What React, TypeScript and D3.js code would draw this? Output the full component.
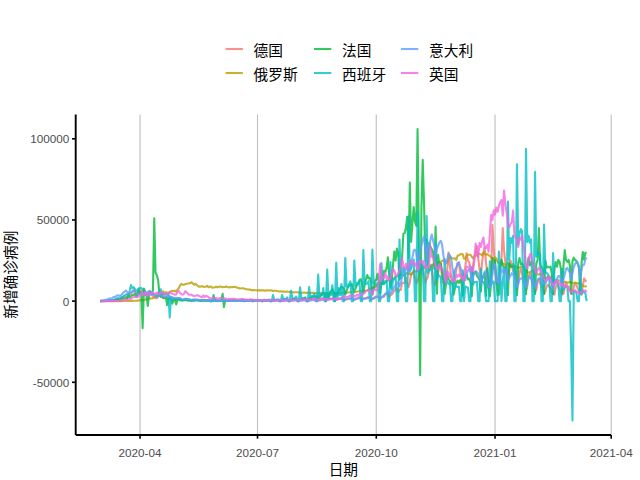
import React from 'react';
import * as d3 from 'd3';

// 数据：2020-03-01 起的每日新增确诊（千例），每行一周（周日到周六）
const startDate = '2020-03-01';
const countries = ['德国', '俄罗斯', '法国', '西班牙', '意大利', '英国'];
const colors = ['#F8766D', '#B79F00', '#00BA38', '#00BFC4', '#619CFF', '#F564E3'];
const xTickDates = ['2020-04-01', '2020-07-01', '2020-10-01', '2021-01-01', '2021-04-01'];
const xTickLabels = ['2020-04', '2020-07', '2020-10', '2021-01', '2021-04'];
const yTicks = [-50000, 0, 50000, 100000];

const de = [
  0,0.1,0.1,0.1,0.2,0.3,0.2,
  0.3,0.2,0.4,0.3,0.8,0.7,0.9,
  1.2,1.0,1.5,2.0,2.8,3.1,2.7,
  1.9,4.2,3.9,4.9,5.6,6.9,6.3,
  4.7,4.0,4.9,5.5,6.2,6.2,5.9,
  3.7,3.8,4.0,4.8,5.2,4.1,2.9,
  2.5,2.1,1.8,2.9,3.3,3.4,3.0,
  1.8,1.8,1.8,2.2,2.4,2.0,1.5,
  1.0,1.0,1.0,1.3,1.5,1.4,0.9,
  0.7,0.7,0.6,1.0,1.3,1.2,0.9,
  0.7,0.4,0.8,0.8,0.9,0.6,0.6,
  0.5,0.3,0.5,0.8,0.6,0.5,0.6,
  0.4,0.3,0.4,0.4,0.7,0.3,0.2,
  0.3,0.2,0.3,0.3,0.4,0.3,0.4,
  0.3,0.2,0.3,0.6,0.3,0.4,0.3,
  0.2,0.2,0.4,0.3,0.8,0.8,0.6,
  0.7,0.5,0.6,0.6,0.6,0.5,0.7,
  0.3,0.3,0.4,0.5,0.3,0.4,0.4,
  0.2,0.2,0.4,0.4,0.4,0.4,0.3,
  0.2,0.2,0.5,0.6,0.6,0.5,0.5,
  0.3,0.4,0.6,0.5,0.6,0.8,0.6,
  0.3,0.6,0.6,0.7,0.9,0.9,1.0,
  0.4,0.5,0.9,0.7,1.0,1.1,1.1,
  0.6,0.4,1.2,1.2,1.4,1.5,1.4,
  0.6,0.6,1.4,1.5,1.7,2.0,1.3,
  0.7,0.7,1.3,1.6,1.5,1.6,1.4,
  0.6,0.9,1.2,1.3,1.3,1.5,1.4,
  0.8,0.8,1.0,1.2,1.5,1.6,1.6,
  0.9,0.8,1.4,1.8,2.2,2.3,1.9,
  1.1,1.3,1.8,1.8,2.2,2.5,2.1,
  1.4,1.2,1.9,2.5,2.7,2.7,2.5,
  1.4,2.0,2.8,2.8,4.1,4.5,4.3,
  2.5,3.5,4.1,5.1,6.6,7.3,7.8,
  5.6,6.9,6.9,11.4,11.2,11.2,14.7,
  10.7,8.7,11.4,16.8,16.8,19.0,14.2,
  11.1,12.1,15.3,18.0,21.5,22.0,16.0,
  11.4,13.4,15.3,19.0,22.0,22.5,14.0,
  9.8,11.0,15.0,17.5,22.0,23.5,14.0,
  11.0,10.2,15.0,19.0,30.0,22.5,14.5,
  12.0,11.0,14.5,19.5,23.5,23.5,17.5,
  12.0,12.0,16.5,21.0,29.5,25.0,24.0,
  20.5,14.5,22.0,28.0,29.5,34.0,26.5,
  19.5,15.5,24.0,30.0,33.0,24.0,17.0,
  12.0,10.0,17.0,47.0,32.0,22.0,11.0,
  10.0,12.0,21.0,25.0,45.0,31.0,24.0,
  16.0,12.5,19.0,25.0,22.0,18.5,18.0,
  14.0,7.0,11.5,17.5,20.0,17.0,12.5,
  11.0,6.5,9.0,15.5,17.0,14.0,11.0,
  9.5,5.5,7.0,12.0,14.0,11.0,9.0,
  8.0,4.5,6.0,9.0,10.0,9.0,7.5,
  6.0,4.5,4.0,8.5,10.5,9.0,7.5,
  6.0,4.0,4.5,8.5,11.5,9.5,9.0,
  7.0,5.0,4.5,9.0,11.0,10.0,8.0,
  6.5,5.0,4.0,9.5,14.0,12.5,12.5,
];

const ru = [
  0,0,0,0,0,0,0,
  0,0,0,0,0,0,0.01,
  0.02,0.03,0.02,0.03,0.05,0.06,0.05,
  0.07,0.06,0.07,0.16,0.18,0.2,0.23,
  0.27,0.3,0.5,0.44,0.77,0.6,0.6,
  0.95,1.15,1.15,1.46,1.8,1.67,1.79,
  2.19,2.56,2.77,3.39,3.45,4.07,4.79,
  6.06,4.27,5.64,5.24,4.77,5.85,5.97,
  6.36,6.2,6.41,5.84,7.1,7.93,9.62,
  10.6,10.1,10.1,10.5,10.7,10.8,11.0,
  11.0,11.7,10.9,10.0,10.6,9.97,9.2,
  8.93,8.93,9.26,8.76,8.85,8.89,9.43,
  8.6,8.95,8.92,8.34,8.37,8.57,8.95,
  8.48,8.86,9.03,8.83,8.54,8.72,8.78,
  8.98,8.6,8.4,8.78,8.5,8.7,8.7,
  8.84,8.25,8.25,7.84,7.79,7.97,7.89,
  7.6,7.42,7.18,7.18,7.11,6.8,6.85,
  6.79,6.69,6.69,6.56,6.76,6.63,6.61,
  6.74,6.61,6.37,6.63,6.51,6.61,6.54,
  6.61,6.25,6.42,6.42,6.2,6.1,5.94,
  6.14,5.84,5.84,5.86,5.81,5.87,5.76,
  5.64,5.63,5.4,5.4,5.48,5.43,5.46,
  5.39,5.16,5.2,5.2,5.24,5.21,5.1,
  5.19,5.12,4.95,5.1,5.06,5.06,4.92,
  4.87,4.84,4.75,4.79,4.87,4.85,4.92,
  4.85,4.68,4.7,4.68,4.71,4.83,4.98,
  4.98,4.73,4.73,4.95,4.99,5.11,5.21,
  5.2,5.1,5.2,5.36,5.45,5.51,5.67,
  5.6,5.5,5.67,5.9,5.9,6.07,6.07,
  6.2,6.2,6.4,6.4,6.6,7.2,7.5,
  7.86,8.1,8.1,8.48,9.4,9.4,10.5,
  10.9,10.9,11.6,11.1,11.5,12.1,12.8,
  13.6,13.9,13.9,13.8,14.2,15.1,15.2,
  15.7,15.9,16.3,16.2,15.7,15.9,17.0,
  17.3,16.5,17.2,16.2,17.7,18.2,18.1,
  18.6,18.4,19.8,19.8,19.4,20.5,20.4,
  21.8,21.8,20.9,19.9,21.6,21.6,22.7,
  22.6,22.8,22.4,23.6,23.6,24.3,24.8,
  25.0,24.6,24.3,23.7,25.3,27.5,26.7,
  26.3,26.3,26.4,25.3,28.1,28.2,28.8,
  29.0,28.8,26.1,26.2,27.9,28.6,28.6,
  28.6,27.3,26.4,27.0,27.9,28.2,29.0,
  29.0,28.9,28.0,29.9,29.3,28.6,29.0,
  28.3,27.8,27.0,26.5,26.0,27.0,26.3,
  24.2,23.3,23.5,24.2,23.1,22.9,22.1,
  22.9,23.0,22.4,21.6,22.2,22.8,21.8,
  21.1,21.0,20.6,20.6,21.4,21.2,20.9,
  19.5,19.2,17.6,17.7,17.8,18.2,19.0,
  17.7,17.0,16.6,16.6,16.3,16.7,16.6,
  15.4,14.5,14.1,14.4,15.0,15.3,14.4,
  13.4,12.9,12.7,13.0,13.4,12.8,12.7,
  12.4,11.5,11.7,11.9,11.7,11.4,11.5,
  11.9,11.6,11.0,11.0,11.5,11.2,11.1,
  10.6,10.9,9.8,9.5,9.2,9.0,9.4,
];

const fr = [
  0,0.05,0.1,0.05,0.1,0.2,0.3,
  0.2,0.3,0.4,0.5,0.6,0.8,0.9,
  0.9,1.2,1.1,1.4,1.8,1.6,1.8,
  1.6,3.8,2.4,2.9,3.9,3.8,4.6,
  2.6,4.4,7.6,4.9,5.2,-16.7,7.8,
  5.0,3.6,-3.0,4.5,6.0,4.8,6.5,
  51.0,17.5,16.0,13.0,4.5,2.6,3.3,
  2.0,2.1,2.7,-2.5,2.0,1.6,1.5,
  -1.5,0.5,1.1,-2.0,1.0,0.8,0.6,
  0.4,0.6,0.6,0.7,0.6,0.3,0.2,
  0.3,0.1,0.5,0.2,0.6,0.7,0.4,
  0.3,0.1,0.3,0.4,0.3,0.3,0.2,
  0.3,0.1,0.2,0.3,3.7,0.2,0.3,
  0.3,0.1,0.2,0.8,4.5,-3.7,0.5,
  0.3,0.2,0.3,0.5,0.4,0.5,0.5,
  0.4,0.2,0.4,0.5,0.4,0.5,0.4,
  0.0,0.3,0.4,0.5,0.4,0.7,0.0,
  0.3,0.2,0.4,0.5,0.6,0.5,0.0,
  0.0,0.5,0.6,0.7,0.6,0.6,0.0,
  0.0,0.5,0.5,0.7,0.8,0.8,0.0,
  0.0,0.6,0.9,1.0,1.1,1.1,0.0,
  0.0,0.7,1.1,1.4,1.3,1.3,0.0,
  0.0,0.9,1.0,1.7,1.6,2.3,0.0,
  0.0,2.0,1.5,2.5,2.7,2.8,3.3,
  0.0,3.1,2.2,3.7,4.8,4.6,4.6,
  0.0,4.9,1.9,5.4,6.1,7.4,5.5,
  0.0,4.9,4.0,7.0,7.2,8.9,8.6,
  7.1,4.2,6.5,8.5,9.8,9.8,10.6,
  7.2,6.2,7.9,9.8,10.6,13.2,13.5,
  10.5,5.3,10.0,13.1,16.1,14.0,14.4,
  11.1,4.1,8.1,12.8,13.0,16.9,12.5,
  5.0,11.0,10.5,18.7,18.1,20.3,27.0,
  16.1,8.5,12.9,22.6,30.6,25.0,32.4,
  29.8,13.2,20.5,26.7,41.6,42.0,45.4,
  52.0,26.8,73.0,36.4,47.6,58.0,49.0,
  46.3,106.0,36.3,-45.7,58.0,87.0,60.5,
  25.0,38.0,22.8,35.9,33.2,32.1,30.0,
  20.0,46.0,4.5,28.4,21.2,22.9,17.9,
  13.1,4.5,10.4,16.3,13.5,12.5,11.2,
  10.0,4.0,8.1,11.2,12.7,11.2,12.9,
  11.0,3.4,13.7,14.6,16.3,13.4,13.9,
  11.5,3.1,17.6,17.0,18.3,15.5,14.6,
  12.8,5.9,15.0,14.9,17.6,3.2,20.3,
  8.8,2.9,11.4,26.5,20.0,25.3,12.5,
  3.5,4.0,20.5,25.4,21.7,20.6,20.8,
  16.8,3.6,23.9,21.2,21.3,20.9,21.4,
  18.0,3.7,23.6,26.5,22.8,23.3,22.0,
  18.3,4.2,22.1,26.9,22.0,23.8,24.2,
  19.2,4.3,23.3,25.2,45.0,22.1,20.9,
  19.7,4.3,25.1,20.7,21.1,20.7,21.2,
  17.1,4.3,19.5,24.1,21.2,25.4,24.2,
  20.3,4.8,21.4,31.5,25.2,24.1,25.4,
  22.0,4.6,24.5,26.8,25.3,24.9,23.1,
  21.1,5.3,23.1,30.3,25.6,29.8,29.8,
];

const es = [
  0.0,0.04,0.03,0.05,0.05,0.1,0.1,
  0.2,0.5,0.5,0.7,0.8,1.3,1.5,
  2.0,1.5,2.1,2.6,2.5,3.5,4.0,
  4.3,3.6,6.6,9.9,7.9,8.6,7.5,
  6.5,6.4,7.8,8.2,7.9,7.1,6.9,
  6.0,4.3,5.5,6.2,5.8,4.6,4.8,
  3.8,3.5,3.1,5.1,5.2,7.3,4.5,
  4.2,4.0,4.2,4.2,4.6,-10.0,2.8,
  1.7,2.1,1.3,1.3,1.4,1.8,1.1,
  0.8,0.4,0.9,1.0,1.1,1.2,0.8,
  0.6,0.4,0.6,0.4,0.5,0.6,0.6,
  0.5,0.3,0.5,0.4,0.5,0.6,0.3,
  0.5,0.1,-0.3,0.3,0.1,0.7,0.3,
  0.0,0.1,0.2,0.3,0.4,0.3,0.3,
  0.2,0.2,0.2,0.2,0.2,0.4,0.3,
  0.3,0.2,0.4,0.3,0.3,0.6,0.0,
  0.0,0.3,0.4,0.3,0.3,0.5,0.0,
  0.0,0.7,0.4,0.3,0.3,0.4,0.0,
  0.0,0.9,0.3,0.3,0.4,0.9,0.0,
  0.0,3.7,0.6,0.7,0.9,1.0,0.0,
  0.0,3.7,1.4,1.4,1.2,2.3,0.0,
  0.0,6.4,1.5,1.2,2.0,2.8,0.0,
  0.0,8.5,1.2,1.7,1.7,1.9,0.0,
  0.0,8.6,1.4,3.2,2.9,4.5,0.0,
  0.0,16.3,2.5,3.7,3.4,8.1,0.0,
  0.0,19.4,2.4,3.6,3.8,9.8,0.0,
  0.0,23.6,2.0,8.1,3.6,10.5,0.0,
  0.0,26.6,8.9,8.9,10.8,12.2,0.0,
  0.0,25.0,9.4,11.2,11.3,12.0,0.0,
  0.0,31.4,10.8,10.8,10.7,12.3,0.0,
  0.0,31.8,11.0,11.0,9.4,11.3,0.0,
  0.0,23.5,11.0,10.5,12.4,12.8,0.0,
  0.0,24.0,7.1,13.3,13.3,15.2,0.0,
  0.0,37.9,13.9,16.9,20.9,19.9,0.0,
  0.0,52.2,18.4,19.8,23.6,25.6,0.0,
  0.0,55.0,18.7,17.1,25.0,22.0,0.0,
  0.0,52.4,17.4,19.1,19.0,21.9,0.0,
  0.0,35.0,13.2,16.4,15.2,15.2,0.0,
  0.0,25.9,12.2,12.2,10.6,11.8,0.0,
  0.0,18.0,9.0,8.9,8.8,9.0,0.0,
  0.0,19.0,0.0,9.0,8.7,8.3,0.0,
  0.0,21.0,10.3,11.8,11.6,12.0,0.0,
  0.0,20.0,12.0,11.8,9.9,0.0,0.0,
  0.0,24.5,10.0,12.0,12.0,0.0,0.0,
  0.0,30.5,17.5,0.0,12.0,20.0,0.0,
  0.0,61.4,25.4,38.9,35.9,40.2,0.0,
  0.0,84.3,34.9,41.6,44.4,42.9,0.0,
  0.0,93.8,36.4,40.2,35.9,38.1,0.0,
  0.0,79.7,27.3,30.4,29.9,28.6,0.0,
  0.0,47.1,18.0,17.3,16.5,14.4,0.0,
  0.0,29.6,11.0,12.2,11.8,10.9,0.0,
  0.0,19.9,7.0,8.9,8.9,8.6,0.0,
  0.0,-29.0,-73.5,6.2,6.1,5.2,0.0,
  0.0,14.6,4.2,6.7,5.3,4.9,0.0,
];

const it = [
  0.6,0.3,0.5,0.6,0.8,0.8,1.2,
  1.5,1.8,1.0,2.3,2.7,2.5,3.5,
  3.6,3.2,3.5,4.2,5.3,5.9,6.6,
  5.6,4.8,5.2,5.2,6.2,6.0,5.9,
  5.2,4.1,4.1,4.8,4.7,4.6,4.8,
  4.3,3.6,3.0,3.8,4.2,3.9,4.7,
  4.1,3.2,3.0,2.7,3.8,3.5,3.5,
  3.0,2.3,2.7,3.4,2.6,3.0,2.4,
  2.3,1.7,2.0,2.1,1.9,1.9,1.9,
  1.4,1.2,1.1,1.4,1.4,1.3,1.1,
  0.8,0.7,0.9,0.9,1.0,0.8,0.9,
  0.7,0.5,0.8,0.7,0.6,0.6,0.7,
  0.5,0.3,0.4,0.6,0.6,0.5,0.4,
  0.4,0.2,0.3,0.3,0.5,0.5,0.3,
  0.2,0.3,0.3,0.2,0.4,0.2,0.3,
  0.3,0.2,0.2,0.3,0.3,0.3,0.3,
  0.2,0.1,0.2,0.2,0.3,0.3,0.2,
  0.2,0.1,0.1,0.2,0.2,0.2,0.2,
  0.2,0.1,0.2,0.2,0.2,0.3,0.2,
  0.2,0.1,0.1,0.2,0.2,0.2,0.2,
  0.2,0.1,0.2,0.3,0.3,0.3,0.3,
  0.2,0.2,0.2,0.3,0.4,0.4,0.3,
  0.2,0.2,0.2,0.4,0.4,0.6,0.3,
  0.5,0.3,0.4,0.5,0.5,0.6,0.6,
  0.5,0.3,0.4,0.6,0.8,0.9,1.0,
  1.2,1.0,0.9,1.4,1.4,1.5,1.5,
  1.4,1.0,1.0,1.3,1.4,1.7,1.7,
  1.3,1.1,1.4,1.6,1.6,1.6,1.5,
  1.5,1.0,1.2,1.5,1.6,1.9,1.6,
  1.6,1.4,1.4,1.6,1.8,1.9,1.9,
  1.8,1.5,1.6,1.9,2.5,2.8,2.8,
  2.6,2.3,2.7,3.7,4.5,5.4,5.7,
  5.5,4.6,5.9,7.3,8.8,10.0,10.9,
  11.7,9.3,10.9,15.2,16.1,19.1,19.6,
  21.3,17.0,21.9,24.9,26.8,31.1,31.8,
  29.9,22.3,28.2,30.5,34.5,37.8,39.8,
  32.6,25.3,35.1,32.9,37.9,41.0,37.3,
  34.0,27.3,32.2,34.3,36.2,37.2,34.8,
  28.3,22.9,23.2,25.9,29.0,28.4,26.3,
  20.6,16.4,19.4,20.7,23.2,24.1,21.1,
  18.9,13.7,14.8,12.8,16.9,18.7,19.9,
  17.9,12.0,14.8,17.6,18.2,17.9,17.0,
  15.1,10.9,13.3,14.5,18.0,19.0,10.4,
  8.9,8.6,11.2,16.2,23.5,22.2,11.8,
  14.2,10.8,15.4,20.3,18.0,17.5,19.9,
  18.6,12.5,14.2,15.8,17.2,16.1,16.3,
  12.5,8.8,10.5,13.6,14.1,13.6,13.3,
  11.6,8.6,10.6,15.2,14.4,13.6,12.7,
  11.3,7.9,10.6,13.2,13.7,14.2,13.4,
  11.6,10.6,10.4,12.9,15.1,13.9,13.4,
  11.1,7.4,10.4,12.1,13.8,15.5,15.4,
  13.5,9.6,13.3,16.4,19.9,20.5,18.9,
  17.5,13.1,17.1,20.9,22.9,24.0,23.6,
  20.8,13.9,19.7,22.4,22.4,25.7,26.8,
];

const uk = [
  0.0,0.0,0.01,0.02,0.03,0.05,0.05,
  0.1,0.05,0.06,0.08,0.13,0.16,0.2,
  0.2,0.3,0.4,0.6,0.7,0.6,1.0,
  0.7,1.0,1.4,1.5,2.1,2.5,2.5,
  2.4,2.6,2.9,4.3,4.2,4.5,3.7,
  5.9,3.8,3.6,5.5,4.3,5.7,5.2,
  4.3,4.7,5.2,4.6,4.6,5.6,5.5,
  4.7,4.3,4.5,4.5,4.6,5.4,4.9,
  4.5,4.3,3.9,4.1,6.0,6.2,5.0,
  4.3,4.0,4.4,6.1,5.6,4.6,3.9,
  3.9,3.9,3.4,3.2,3.3,3.6,3.5,
  3.1,2.7,2.4,3.6,2.5,3.3,2.9,
  2.4,1.6,1.7,2.0,2.0,1.9,1.9,
  1.5,1.6,1.9,1.9,1.8,1.7,1.6,
  1.3,1.2,1.4,1.0,1.5,1.5,1.4,
  1.3,1.1,1.0,1.1,1.2,1.3,1.3,
  0.9,1.0,0.9,0.6,1.1,1.0,0.9,
  0.8,0.7,0.7,0.8,0.6,0.5,0.6,
  0.5,0.5,0.6,0.6,0.5,0.8,0.8,
  0.7,0.5,0.5,0.6,0.5,0.7,0.8,
  0.6,0.5,0.4,0.6,0.8,0.8,0.7,
  0.7,0.7,0.6,0.8,0.8,0.9,0.7,
  0.7,0.9,0.7,1.0,0.9,0.9,0.8,
  1.1,1.0,0.8,1.0,1.4,1.1,1.4,
  1.0,0.7,0.8,1.2,1.2,1.0,1.3,
  1.0,0.9,1.0,1.0,1.3,1.1,1.1,
  1.7,1.3,1.3,1.5,1.7,1.9,2.0,
  3.0,2.9,2.5,2.7,3.0,3.5,3.5,
  3.3,3.1,3.1,3.9,3.4,4.3,4.4,
  3.9,4.4,4.9,6.2,6.6,6.9,6.0,
  5.7,4.0,7.1,7.1,6.9,6.9,12.9,
  22.9,12.6,14.5,14.2,17.5,13.9,15.2,
  12.9,13.9,17.2,19.7,18.9,15.7,16.2,
  16.9,18.8,21.3,26.7,21.2,20.5,23.0,
  19.8,20.9,22.9,24.7,23.1,24.4,21.9,
  23.3,18.9,20.0,25.2,24.1,23.3,24.9,
  20.6,21.4,20.4,22.9,33.5,27.3,26.9,
  24.9,21.4,20.1,19.6,22.9,20.3,19.9,
  18.7,15.5,11.3,18.2,17.6,14.9,15.9,
  12.3,13.4,12.3,16.2,14.9,16.3,15.5,
  15.6,14.7,12.3,16.6,20.9,21.2,21.3,
  18.4,20.3,18.5,25.2,35.4,28.5,27.1,
  36.0,33.4,36.8,39.2,32.7,32.7,34.7,
  30.5,41.4,53.1,50.0,55.9,53.3,57.7,
  55.0,58.8,60.9,62.3,52.6,68.1,59.9,
  54.9,46.2,45.5,47.5,48.7,55.8,41.3,
  38.6,37.5,33.4,38.9,37.9,40.3,33.6,
  30.0,22.2,20.1,25.3,28.7,29.0,23.3,
  21.1,18.6,16.8,19.2,20.6,19.1,18.3,
  15.8,14.1,12.4,13.0,13.5,15.1,13.3,
  10.9,9.8,10.6,12.7,12.1,12.0,10.4,
  9.8,10.6,8.5,9.9,9.0,8.5,7.4,
  6.0,5.5,6.4,6.6,6.6,6.1,5.2,
  5.2,4.7,5.8,6.0,6.3,6.6,5.5,
];

const seriesValues = [de, ru, fr, es, it, uk];

const W = 640;
const H = 480;
const panel = { left: 75.7, right: 611, top: 114.5, bottom: 435 };
const latin = '"Liberation Sans", Arial, sans-serif';
const cjk = '"Noto Sans CJK SC", "Liberation Sans", sans-serif';

export default function App() {
  const start = d3.isoParse(startDate) as Date;
  const series = seriesValues.map((vals, i) => ({
    name: countries[i],
    color: colors[i],
    points: vals.map((v, j) => ({ date: d3.timeDay.offset(start, j), value: v * 1000 })),
  }));

  const allPts = series.flatMap(s => s.points);
  const [d0, d1] = d3.extent(allPts, p => p.date) as [Date, Date];
  const span = +d1 - +d0;
  const x = d3.scaleTime()
    .domain([new Date(+d0 - span * 0.05), new Date(+d1 + span * 0.05)])
    .range([panel.left, panel.right]);

  const [v0, v1] = d3.extent(allPts, p => p.value) as [number, number];
  const vspan = v1 - v0;
  const y = d3.scaleLinear()
    .domain([v0 - vspan * 0.05, v1 + vspan * 0.05])
    .range([panel.bottom, panel.top]);

  const line = d3.line<{ date: Date; value: number }>()
    .x(p => x(p.date))
    .y(p => y(p.value));

  const xTicks = xTickDates.map(s => d3.isoParse(s) as Date);

  // 图例：两行三列，按列排
  const legendCols = [225.6, 314, 401];
  const legendRows = [49, 73];

  return (
    <svg width={W} height={H} style={{ position: 'absolute', left: 0, top: 0, background: '#fff' }}>
      <rect width={W} height={H} fill="#fff" />

      {xTicks.map((t, i) => (
        <line key={'g' + i} x1={x(t)} x2={x(t)} y1={panel.top} y2={panel.bottom}
          stroke="#bebebe" strokeWidth={1.1} />
      ))}

      <g>
        {series.map(s => (
          <path key={s.name} d={line(s.points) || ''} fill="none" stroke={s.color}
            strokeOpacity={0.8} strokeWidth={2.1} strokeLinejoin="round" />
        ))}
      </g>

      {/* axes */}
      <line x1={panel.left} x2={panel.right} y1={panel.bottom} y2={panel.bottom} stroke="#000" strokeWidth={1.9} />
      <line x1={panel.left} x2={panel.left} y1={panel.top} y2={panel.bottom} stroke="#000" strokeWidth={1.9} />

      {xTicks.map((t, i) => (
        <g key={'x' + i}>
          <line x1={x(t)} x2={x(t)} y1={panel.bottom} y2={panel.bottom + 3.7} stroke="#000" strokeWidth={1.6} />
          <text x={x(t)} y={452} textAnchor="middle" dominantBaseline="central"
            fontFamily={latin} fontSize={11.7} fill="#4d4d4d">{xTickLabels[i]}</text>
        </g>
      ))}

      {yTicks.map(v => (
        <g key={'y' + v}>
          <line x1={panel.left - 3.7} x2={panel.left} y1={y(v)} y2={y(v)} stroke="#000" strokeWidth={1.6} />
          <text x={panel.left - 6.5} y={y(v)} textAnchor="end" dominantBaseline="central"
            fontFamily={latin} fontSize={11.7} fill="#4d4d4d">{v}</text>
        </g>
      ))}

      <text x={(panel.left + panel.right) / 2} y={468} textAnchor="middle" dominantBaseline="central"
        fontFamily={cjk} fontSize={14.7} fill="#000">日期</text>
      <text transform={`translate(9.5,${(panel.top + panel.bottom) / 2}) rotate(-90)`} textAnchor="middle"
        dominantBaseline="central" fontFamily={cjk} fontSize={14.7} fill="#000">新增确诊病例</text>

      {series.map((s, i) => {
        const lx = legendCols[Math.floor(i / 2)];
        const ly = legendRows[i % 2];
        return (
          <g key={'l' + s.name}>
            <line x1={lx} x2={lx + 17.3} y1={ly} y2={ly} stroke={s.color} strokeOpacity={0.8} strokeWidth={2.1} />
            <text x={lx + 28} y={ly} dominantBaseline="central" fontFamily={cjk} fontSize={14.7} fill="#000">{s.name}</text>
          </g>
        );
      })}
    </svg>
  );
}
